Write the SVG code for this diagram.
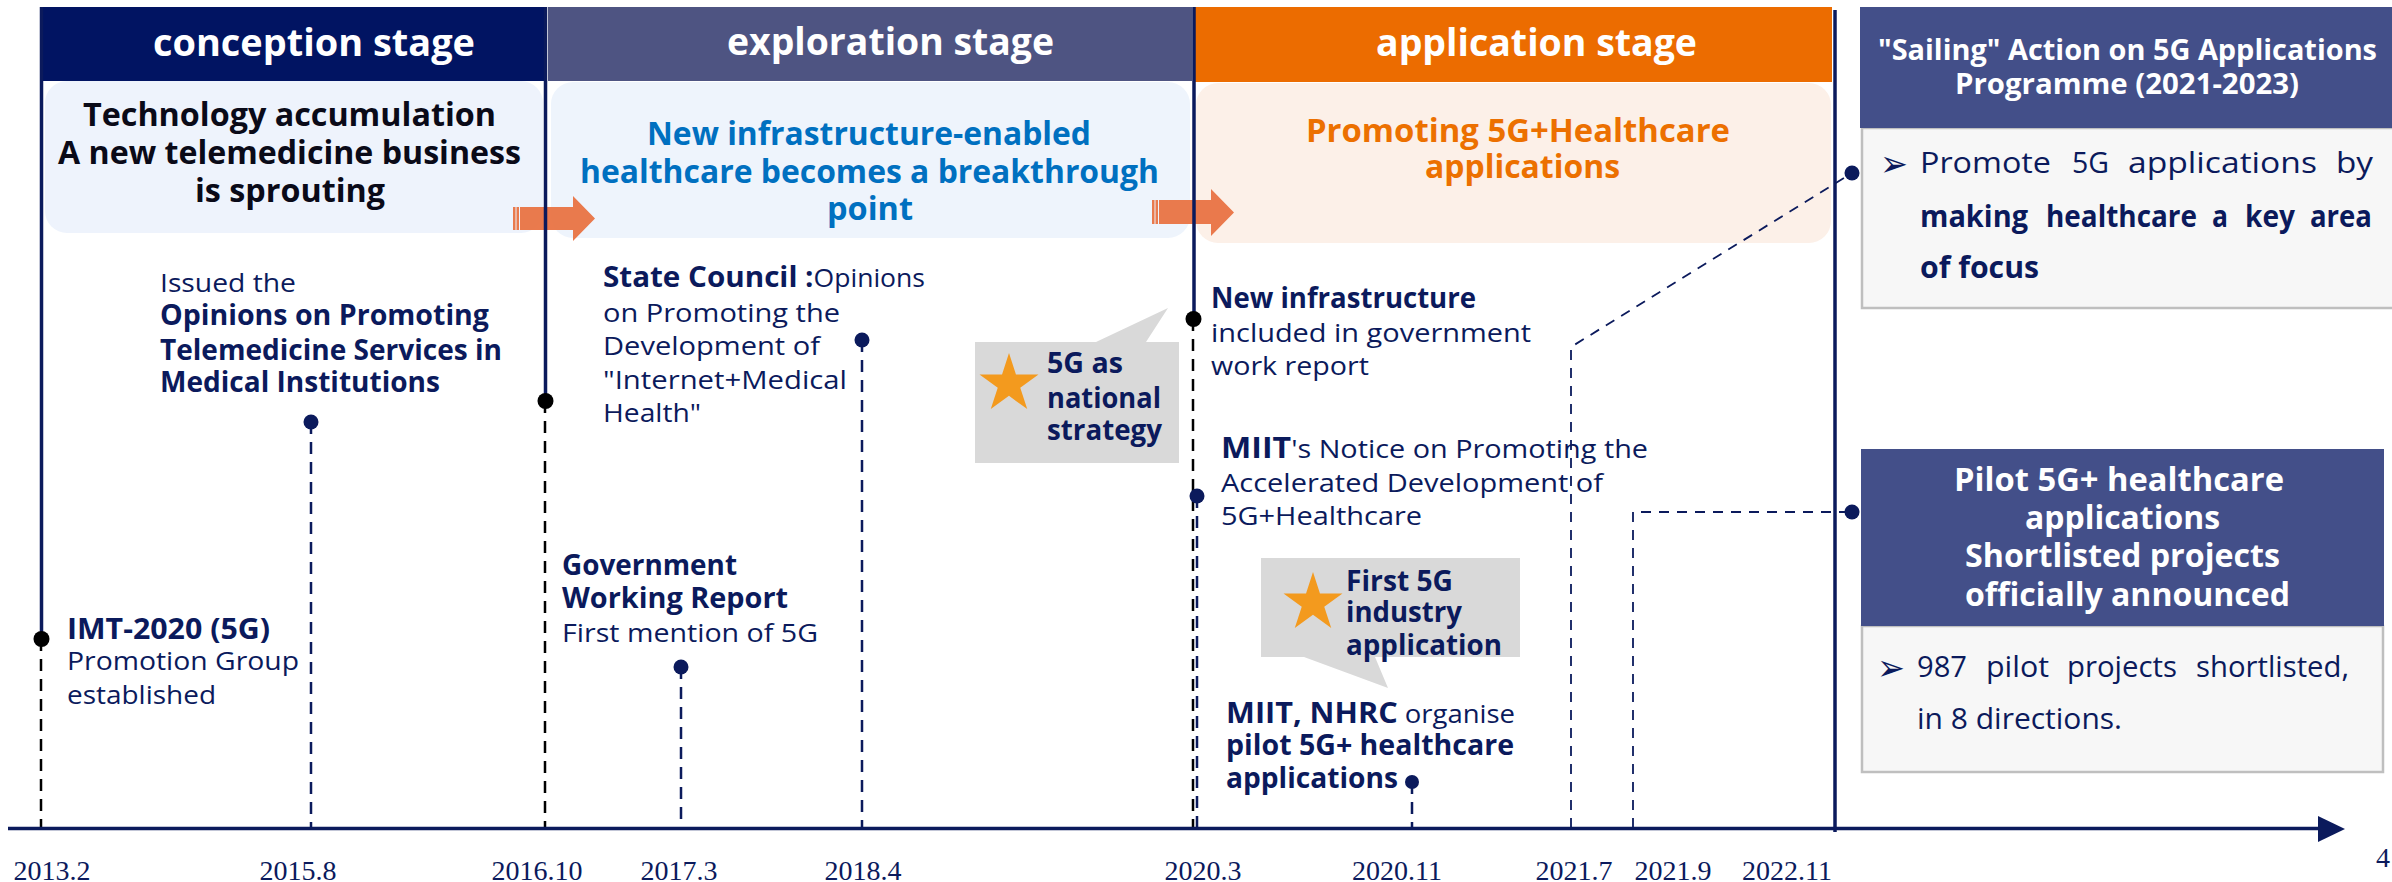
<svg xmlns="http://www.w3.org/2000/svg" width="2392" height="882" viewBox="0 0 2392 882">
<defs>
<style>
text{font-family:"Open Sans","Noto Sans","DejaVu Sans",sans-serif}
.hd{font-size:38px;font-weight:700;fill:#fff}
.hl{font-size:33px;font-weight:700}
.ev{font-size:26px;fill:#0b1a5c}
.b{font-weight:700;font-size:29px}
.bx{font-size:30px;fill:#0b1a5c}
.bxh{font-weight:700;fill:#fff}
.dt{font-family:"Liberation Serif",serif;font-size:28px;fill:#0b1a5c;text-anchor:middle}
.bul{font-family:"DejaVu Sans",sans-serif;font-size:36px;fill:#0b1a5c}
.solid{stroke:#0b1a5c;stroke-width:3.5;fill:none}
.dk{stroke:#000;stroke-width:2.5;stroke-dasharray:12 8;fill:none}
.dn{stroke:#0b1a5c;stroke-width:2.5;stroke-dasharray:12 8;fill:none}
.dthin{stroke:#0b1a5c;stroke-width:1.8;stroke-dasharray:10 8;fill:none}
.arw{fill:#e8703f;opacity:.93}
.bub{fill:#d9d9d9}
.star{fill:#f39a1e}
.light{stroke:none}
.card{fill:#f7f7f7;stroke:#bfbfbf;stroke-width:2.5}
.cardh{fill:#434f89}
</style>
<path id="star5" d="M0,-31 L6.96,-9.58 L29.48,-9.58 L11.26,3.66 L18.22,25.08 L0,11.84 L-18.22,25.08 L-11.26,3.66 L-29.48,-9.58 L-6.96,-9.58 Z"/>
</defs>
<rect width="2392" height="882" fill="#fff"/>

<!-- stage headers and summary panels -->
<g id="stage-conception">
<rect x="40" y="7" width="507" height="74" fill="#011462"/>
<rect class="light" x="45" y="81" width="498" height="152" rx="22" fill="#eef3fc"/>
<text class="hd" x="153" y="56" textLength="322" lengthAdjust="spacingAndGlyphs">conception stage</text>
<g class="hl" fill="#0a0a18">
<text x="83" y="126" textLength="413" lengthAdjust="spacingAndGlyphs">Technology accumulation</text>
<text x="58" y="164" textLength="463" lengthAdjust="spacingAndGlyphs">A new telemedicine business</text>
<text x="195" y="202" textLength="190" lengthAdjust="spacingAndGlyphs">is sprouting</text>
</g>
</g>

<g id="stage-exploration">
<rect x="548" y="7" width="644" height="74" fill="#4e5482"/>
<rect class="light" x="551" y="82" width="639" height="156" rx="22" fill="#eef4fc"/>
<text class="hd" x="727" y="55" textLength="327" lengthAdjust="spacingAndGlyphs">exploration stage</text>
<g class="hl" fill="#0070c0">
<text x="647" y="145" textLength="444" lengthAdjust="spacingAndGlyphs">New infrastructure-enabled</text>
<text x="580" y="183" textLength="579" lengthAdjust="spacingAndGlyphs">healthcare becomes a breakthrough</text>
<text x="827" y="220" textLength="86" lengthAdjust="spacingAndGlyphs">point</text>
</g>
</g>

<g id="stage-application">
<rect x="1195" y="7" width="637" height="75" fill="#ec6c00"/>
<rect class="light" x="1196" y="83" width="635" height="160" rx="22" fill="#fcf0e8"/>
<text class="hd" x="1376" y="56" textLength="321" lengthAdjust="spacingAndGlyphs">application stage</text>
<g class="hl" fill="#ec7000">
<text x="1306" y="142" textLength="424" lengthAdjust="spacingAndGlyphs">Promoting 5G+Healthcare</text>
<text x="1425" y="178" textLength="195" lengthAdjust="spacingAndGlyphs">applications</text>
</g>
</g>

<!-- stage transition arrows -->
<g id="arrow-1">
<rect class="arw" x="513" y="207" width="2.5" height="23"/>
<rect class="arw" x="516.5" y="207" width="2.5" height="23"/>
<polygon class="arw" points="520,207 573,207 573,196 595,218.5 573,241 573,230 520,230"/>
</g>
<g id="arrow-2">
<rect class="arw" x="1152" y="200" width="2.5" height="24"/>
<rect class="arw" x="1155.5" y="200" width="2.5" height="24"/>
<polygon class="arw" points="1159,200 1211,200 1211,189 1234,212.5 1211,236 1211,224 1159,224"/>
</g>

<!-- timeline lines, drop lines and leaders -->
<g id="connectors">
<path class="solid" d="M41.5,7 V639"/>
<path class="solid" d="M545.5,7 V401"/>
<path class="solid" d="M1194,7 V319"/>
<path class="solid" d="M1835,10 V832"/>
<path class="dk" d="M41,639 V828"/>
<path class="dk" d="M545,401 V828"/>
<path class="dk" d="M1193,319 V828"/>
<path class="dn" d="M311,422 V828"/>
<path class="dn" d="M681,667 V828"/>
<path class="dn" d="M862,340 V828"/>
<path class="dn" d="M1197,496 V828"/>
<path class="dn" d="M1412,782 V828"/>
<path class="dthin" d="M1571,828 V347 L1852,173"/>
<path class="dthin" d="M1633,828 V512 H1852"/>
<path d="M8,828.5 H2322" stroke="#0b1a5c" stroke-width="3.5" fill="none"/>
<polygon points="2318,816 2345,829 2318,842" fill="#0b1a5c"/>
<g fill="#000">
<circle cx="41.5" cy="639" r="8"/>
<circle cx="545.5" cy="401" r="8"/>
<circle cx="1193.5" cy="319" r="8"/>
</g>
<g fill="#0b1a5c">
<circle cx="311" cy="422" r="7.5"/>
<circle cx="681" cy="667" r="7.5"/>
<circle cx="862" cy="340" r="7.5"/>
<circle cx="1197" cy="496" r="7.5"/>
<circle cx="1412" cy="782" r="7"/>
<circle cx="1852" cy="173" r="7.5"/>
<circle cx="1852" cy="512" r="7.5"/>
</g>
</g>

<!-- milestone labels -->
<g id="event-2013-2">
<text class="ev" x="67" y="639" textLength="203" lengthAdjust="spacingAndGlyphs"><tspan class="b">IMT-2020 (5G)</tspan></text>
<text class="ev" x="67" y="670" textLength="232" lengthAdjust="spacingAndGlyphs">Promotion Group</text>
<text class="ev" x="67" y="704" textLength="149" lengthAdjust="spacingAndGlyphs">established</text>
</g>
<g id="event-2015-8">
<text class="ev" x="160" y="292" textLength="136" lengthAdjust="spacingAndGlyphs">Issued the</text>
<text class="ev" x="160" y="325" textLength="329" lengthAdjust="spacingAndGlyphs"><tspan class="b">Opinions on Promoting</tspan></text>
<text class="ev" x="160" y="360" textLength="342" lengthAdjust="spacingAndGlyphs"><tspan class="b">Telemedicine Services in</tspan></text>
<text class="ev" x="160" y="392" textLength="280" lengthAdjust="spacingAndGlyphs"><tspan class="b">Medical Institutions</tspan></text>
</g>
<g id="event-2017-3">
<text class="ev" x="562" y="575" textLength="175" lengthAdjust="spacingAndGlyphs"><tspan class="b">Government</tspan></text>
<text class="ev" x="562" y="608" textLength="226" lengthAdjust="spacingAndGlyphs"><tspan class="b">Working Report</tspan></text>
<text class="ev" x="562" y="642" textLength="256" lengthAdjust="spacingAndGlyphs">First mention of 5G</text>
</g>
<g id="event-2018-4">
<text class="ev" x="603" y="287" textLength="322" lengthAdjust="spacingAndGlyphs"><tspan class="b">State Council :</tspan>Opinions</text>
<text class="ev" x="603" y="322" textLength="237" lengthAdjust="spacingAndGlyphs">on Promoting the</text>
<text class="ev" x="603" y="355" textLength="217" lengthAdjust="spacingAndGlyphs">Development of</text>
<text class="ev" x="603" y="389" textLength="244" lengthAdjust="spacingAndGlyphs">"Internet+Medical</text>
<text class="ev" x="603" y="422" textLength="98" lengthAdjust="spacingAndGlyphs">Health"</text>
</g>
<g id="callout-national-strategy">
<path class="bub" d="M975,342 H1096 L1168,308 L1146,342 H1179 V463 H975 Z"/>
<use href="#star5" class="star" x="1009" y="384"/>
<text class="ev" x="1047" y="373" textLength="76" lengthAdjust="spacingAndGlyphs"><tspan class="b">5G as</tspan></text>
<text class="ev" x="1047" y="408" textLength="114" lengthAdjust="spacingAndGlyphs"><tspan class="b">national</tspan></text>
<text class="ev" x="1047" y="440" textLength="115" lengthAdjust="spacingAndGlyphs"><tspan class="b">strategy</tspan></text>
</g>
<g id="event-2020-3a">
<text class="ev" x="1211" y="308" textLength="265" lengthAdjust="spacingAndGlyphs"><tspan class="b">New infrastructure</tspan></text>
<text class="ev" x="1211" y="342" textLength="320" lengthAdjust="spacingAndGlyphs">included in government</text>
<text class="ev" x="1211" y="375" textLength="158" lengthAdjust="spacingAndGlyphs">work report</text>
</g>
<g id="event-2020-3b">
<text class="ev" x="1221" y="458" textLength="427" lengthAdjust="spacingAndGlyphs"><tspan class="b">MIIT</tspan>'s Notice on Promoting the</text>
<text class="ev" x="1221" y="492" textLength="382" lengthAdjust="spacingAndGlyphs">Accelerated Development of</text>
<text class="ev" x="1221" y="525" textLength="201" lengthAdjust="spacingAndGlyphs">5G+Healthcare</text>
</g>
<g id="callout-first-application">
<path class="bub" d="M1261,558 H1520 V657 H1375 L1388,688 L1304,657 H1261 Z"/>
<use href="#star5" class="star" x="1313" y="603"/>
<text class="ev" x="1346" y="591" textLength="107" lengthAdjust="spacingAndGlyphs"><tspan class="b">First 5G</tspan></text>
<text class="ev" x="1346" y="622" textLength="116" lengthAdjust="spacingAndGlyphs"><tspan class="b">industry</tspan></text>
<text class="ev" x="1346" y="655" textLength="156" lengthAdjust="spacingAndGlyphs"><tspan class="b">application</tspan></text>
</g>
<g id="event-2020-11">
<text class="ev" x="1226" y="723" textLength="289" lengthAdjust="spacingAndGlyphs"><tspan class="b">MIIT, NHRC</tspan> organise</text>
<text class="ev" x="1226" y="755" textLength="288" lengthAdjust="spacingAndGlyphs"><tspan class="b">pilot 5G+ healthcare</tspan></text>
<text class="ev" x="1226" y="788" textLength="172" lengthAdjust="spacingAndGlyphs"><tspan class="b">applications</tspan></text>
</g>

<!-- programme cards -->
<g id="card-sailing">
<rect class="card" x="1862" y="128" width="535" height="180"/>
<rect class="cardh" x="1860" y="7" width="532" height="121"/>
<g class="bxh" font-size="28">
<text x="1878" y="60" textLength="499" lengthAdjust="spacingAndGlyphs">"Sailing" Action on 5G Applications</text>
<text x="1955" y="94" textLength="344" lengthAdjust="spacingAndGlyphs">Programme (2021-2023)</text>
</g>
<text class="bul" x="1880" y="176" textLength="28" lengthAdjust="spacingAndGlyphs">➢</text>
<g class="bx">
<text x="1920" y="173" textLength="131" lengthAdjust="spacingAndGlyphs">Promote</text>
<text x="2072" y="173" textLength="37" lengthAdjust="spacingAndGlyphs">5G</text>
<text x="2128" y="173" textLength="189" lengthAdjust="spacingAndGlyphs">applications</text>
<text x="2336" y="173" textLength="37" lengthAdjust="spacingAndGlyphs">by</text>
</g>
<g class="bx" font-weight="700">
<text x="1920" y="227" textLength="108" lengthAdjust="spacingAndGlyphs">making</text>
<text x="2046" y="227" textLength="151" lengthAdjust="spacingAndGlyphs">healthcare</text>
<text x="2212" y="227" textLength="16" lengthAdjust="spacingAndGlyphs">a</text>
<text x="2245" y="227" textLength="50" lengthAdjust="spacingAndGlyphs">key</text>
<text x="2310" y="227" textLength="62" lengthAdjust="spacingAndGlyphs">area</text>
<text x="1920" y="278" textLength="119" lengthAdjust="spacingAndGlyphs">of focus</text>
</g>
</g>

<g id="card-pilot">
<rect class="card" x="1862" y="626" width="521" height="146"/>
<rect class="cardh" x="1861" y="449" width="523" height="177"/>
<g class="bxh" font-size="33">
<text x="1954" y="491" textLength="330" lengthAdjust="spacingAndGlyphs">Pilot 5G+ healthcare</text>
<text x="2025" y="529" textLength="195" lengthAdjust="spacingAndGlyphs">applications</text>
<text x="1965" y="567" textLength="315" lengthAdjust="spacingAndGlyphs">Shortlisted projects</text>
<text x="1965" y="606" textLength="325" lengthAdjust="spacingAndGlyphs">officially announced</text>
</g>
<text class="bul" x="1877" y="680" textLength="28" lengthAdjust="spacingAndGlyphs">➢</text>
<g class="bx">
<text x="1917" y="677" textLength="50" lengthAdjust="spacingAndGlyphs">987</text>
<text x="1986" y="677" textLength="63" lengthAdjust="spacingAndGlyphs">pilot</text>
<text x="2067" y="677" textLength="110" lengthAdjust="spacingAndGlyphs">projects</text>
<text x="2196" y="677" textLength="153" lengthAdjust="spacingAndGlyphs">shortlisted,</text>
<text x="1917" y="729" textLength="205" lengthAdjust="spacingAndGlyphs">in 8 directions.</text>
</g>
</g>

<!-- axis dates -->
<g id="axis-dates">
<text class="dt" x="52" y="880">2013.2</text>
<text class="dt" x="298" y="880">2015.8</text>
<text class="dt" x="537" y="880">2016.10</text>
<text class="dt" x="679" y="880">2017.3</text>
<text class="dt" x="863" y="880">2018.4</text>
<text class="dt" x="1203" y="880">2020.3</text>
<text class="dt" x="1397" y="880">2020.11</text>
<text class="dt" x="1574" y="880">2021.7</text>
<text class="dt" x="1673" y="880">2021.9</text>
<text class="dt" x="1787" y="880">2022.11</text>
<text class="dt" x="2383" y="867">4</text>
</g>
</svg>
